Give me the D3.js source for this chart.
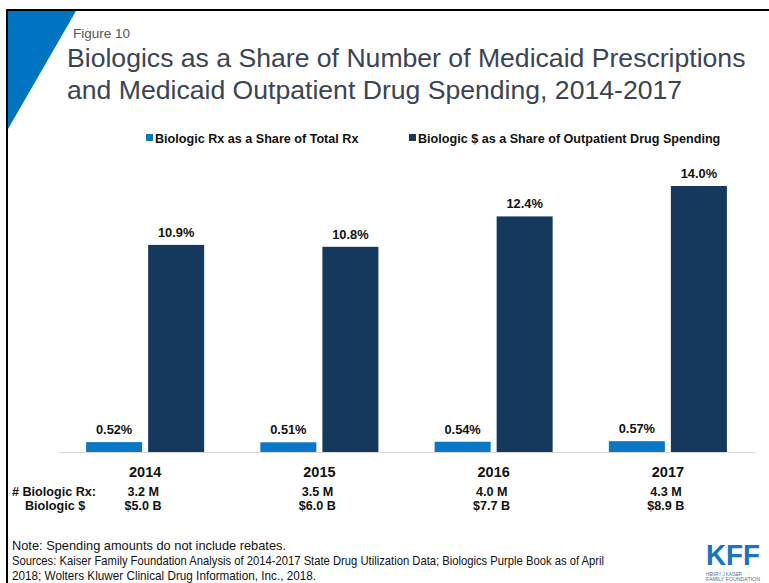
<!DOCTYPE html>
<html>
<head>
<meta charset="utf-8">
<script src="https://cdn.jsdelivr.net/npm/d3@7"></script>
<style>
  html, body { margin: 0; padding: 0; background: #fff; }
  svg { display: block; font-family: "Liberation Sans", Arial, sans-serif; }
</style>
</head>
<body>
<svg id="chart" width="769" height="583"></svg>
<script>
// Chart data
const years = ["2014", "2015", "2016", "2017"];
const seriesNames = ["Biologic Rx as a Share of Total Rx", "Biologic $ as a Share of Outpatient Drug Spending"];
const rxShare = [0.52, 0.51, 0.54, 0.57];
const spendShare = [10.9, 10.8, 12.4, 14.0];
const rxCounts = ["3.2 M", "3.5 M", "4.0 M", "4.3 M"];
const spendAmounts = ["$5.0 B", "$6.0 B", "$7.7 B", "$8.9 B"];
const rowLabels = ["# Biologic Rx:", "Biologic $"];

const colors = ["#0a77c4", "#15395c"];
const valueFormats = [v => v.toFixed(2) + "%", v => v.toFixed(1) + "%"];

const svg = d3.select("#chart");

// Frame and corner accent
svg.append("path")
  .attr("d", "M8,11 L76,11 L8,129 Z")
  .attr("fill", "#0074c1");
svg.append("path")
  .attr("d", "M7,583 L7,10 L769,10")
  .attr("fill", "none")
  .attr("stroke", "#000")
  .attr("stroke-width", 2);

// Titles
svg.append("text")
  .attr("x", 73).attr("y", 38)
  .attr("font-size", 13.5)
  .attr("fill", "#555")
  .text("Figure 10");
const titleLines = ["Biologics as a Share of Number of Medicaid Prescriptions",
                    "and Medicaid Outpatient Drug Spending, 2014-2017"];
svg.append("g").selectAll("text")
  .data(titleLines).join("text")
  .attr("x", 67)
  .attr("y", (d, i) => 67 + i * 32)
  .attr("font-size", 26.6)
  .attr("fill", "#3b4452")
  .text(d => d);

// Scales
const x0 = d3.scaleBand().domain(years).range([58, 755]).paddingInner(0).paddingOuter(0);
const x1 = d3.scaleBand().domain(d3.range(2)).range([0, x0.bandwidth()])
  .paddingInner(0.097).paddingOuter(0.453);
const y = d3.scaleLinear().domain([0, 15]).range([452, 167]);

// Legend
const legendX = [146, 409];
const legend = svg.append("g").selectAll("g")
  .data(seriesNames).join("g")
  .attr("transform", (d, i) => `translate(${legendX[i]},134)`);
legend.append("rect")
  .attr("width", 7).attr("height", 7)
  .attr("fill", (d, i) => colors[i]);
legend.append("text")
  .attr("x", 9).attr("y", 9)
  .attr("font-size", 12.6).attr("font-weight", "bold")
  .attr("fill", "#111")
  .text(d => d);

// Bars
const series = [rxShare, spendShare];
const groups = svg.append("g").selectAll("g")
  .data(years).join("g")
  .attr("transform", d => `translate(${x0(d)},0)`);

groups.selectAll("rect")
  .data((d, i) => series.map((s, k) => ({k, v: s[i]})))
  .join("rect")
  .attr("x", d => x1(d.k))
  .attr("width", x1.bandwidth())
  .attr("y", d => y(d.v))
  .attr("height", d => y(0) - y(d.v))
  .attr("fill", d => colors[d.k]);

groups.selectAll("text.val")
  .data((d, i) => series.map((s, k) => ({k, v: s[i]})))
  .join("text")
  .attr("class", "val")
  .attr("x", d => x1(d.k) + x1.bandwidth() / 2)
  .attr("y", d => y(d.v) - 8)
  .attr("text-anchor", "middle")
  .attr("font-size", 12.8).attr("font-weight", "bold")
  .attr("fill", "#111")
  .text(d => valueFormats[d.k](d.v));

// Baseline and category axis
const xAxis = svg.append("g")
  .attr("transform", `translate(0,${y(0)})`)
  .call(d3.axisBottom(x0).tickSize(0).tickPadding(15));
xAxis.select(".domain").attr("stroke", "#d9d9d9").attr("stroke-width", 1.2);
xAxis.selectAll(".tick text")
  .attr("font-family", "Liberation Sans, Arial, sans-serif")
  .attr("font-size", 14.5).attr("font-weight", "bold")
  .attr("fill", "#111");

// Supplementary table under the axis
const rows = [rxCounts, spendAmounts];
const rowY = [496, 510];
const rowLabelX = [12, 25];
svg.append("g").selectAll("text")
  .data(rowLabels).join("text")
  .attr("x", (d, i) => rowLabelX[i])
  .attr("y", (d, i) => rowY[i])
  .attr("font-size", 12.6).attr("font-weight", "bold")
  .attr("fill", "#111")
  .text(d => d);
rows.forEach((row, r) => {
  svg.append("g").selectAll("text")
    .data(row).join("text")
    .attr("x", (d, i) => x0(years[i]) + x0.bandwidth() / 2 - 2)
    .attr("y", rowY[r])
    .attr("text-anchor", "middle")
    .attr("font-size", 12.6).attr("font-weight", "bold")
    .attr("fill", "#111")
    .text(d => d);
});

// Notes
const notes = [
  "Note: Spending amounts do not include rebates.",
  "Sources: Kaiser Family Foundation Analysis of 2014-2017 State Drug Utilization Data; Biologics Purple Book as of April",
  "2018; Wolters Kluwer Clinical Drug Information, Inc., 2018."
];
const noteWidths = [274, 592, 304];
svg.append("g").selectAll("text")
  .data(notes).join("text")
  .attr("x", 12)
  .attr("y", (d, i) => 550 + i * 15)
  .attr("font-family", "'Liberation Sans Narrow', 'Liberation Sans', Arial, sans-serif")
  .attr("font-size", 13)
  .attr("fill", "#111")
  .attr("textLength", (d, i) => noteWidths[i])
  .attr("lengthAdjust", "spacingAndGlyphs")
  .text(d => d);

// KFF logo
const logo = svg.append("g").attr("transform", "translate(706,540)");
logo.append("text")
  .attr("x", 0).attr("y", 25)
  .attr("font-size", 30).attr("font-weight", "bold")
  .attr("font-family", "'Liberation Sans Narrow', 'Liberation Sans', Arial, sans-serif")
  .attr("fill", "#1a74bf")
  .attr("textLength", 54).attr("lengthAdjust", "spacingAndGlyphs")
  .text("KFF");
["HENRY J KAISER", "FAMILY FOUNDATION"].forEach((t, i) => {
  logo.append("text")
    .attr("x", 0).attr("y", 36 + i * 5)
    .attr("font-size", 4.8)
    .attr("fill", "#4a6f96")
    .attr("textLength", i ? 54 : 36).attr("lengthAdjust", "spacingAndGlyphs")
    .text(t);
});
</script>
</body>
</html>
